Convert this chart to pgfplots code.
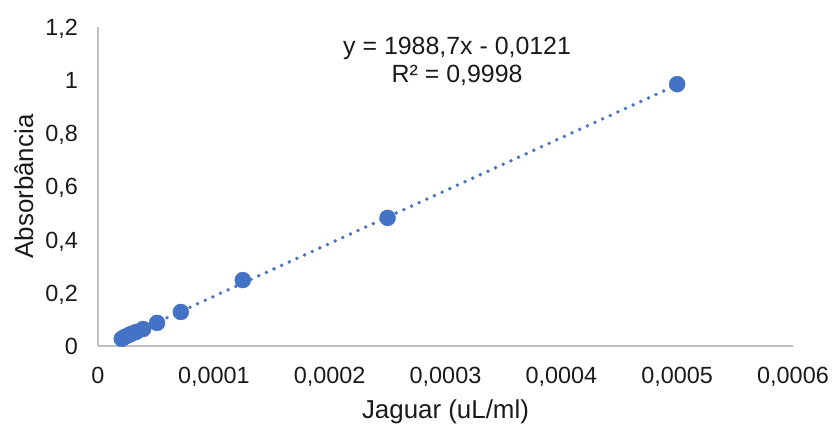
\documentclass[border=0pt]{standalone}
\usepackage{pgfplots}
\pgfplotsset{compat=1.18}
\usepackage{fontspec}
\setmainfont{Liberation Sans}
\definecolor{pts}{HTML}{4472C4}
\definecolor{axgray}{HTML}{BFBFBF}
\definecolor{txt}{HTML}{1A1A1A}
\begin{document}
\begin{tikzpicture}
\begin{axis}[name=ax, scale only axis, width=695bp, height=319bp,
  xmin=0, xmax=0.0006, ymin=0, ymax=1.2,
  axis lines*=left,
  axis line style={axgray, line width=1.3bp},
  xtick={0,0.0001,0.0002,0.0003,0.0004,0.0005,0.0006},
  xticklabels={0,{0,0001},{0,0002},{0,0003},{0,0004},{0,0005},{0,0006}},
  ytick={0,0.2,0.4,0.6,0.8,1,1.2},
  yticklabels={0,{0,2},{0,4},{0,6},{0,8},1,{1,2}},
  major tick length=0pt, tick style={draw=none},
  ticklabel style={font=\fontsize{23.5}{28}\selectfont, text=txt, inner sep=0pt},
  xticklabel style={anchor=base, yshift=-37bp},
  yticklabel style={anchor=base east, xshift=-20bp, yshift=-8.4bp},
  xlabel={Jaguar (uL/ml)}, ylabel={Absorbância},
  label style={font=\fontsize{26}{31}\selectfont, text=txt, inner sep=0pt},
  xlabel style={at={(axis description cs:0.5,-0.2288)}, anchor=base},
  ylabel style={at={(axis description cs:-0.0935,0.5)}, anchor=base},
  clip=false,
]
\addplot[pts, line width=3.8bp, line cap=round, dash pattern=on 0bp off 8.4bp]
  coordinates {(0.00002,0.0277) (0.0005,0.9823)};
\addplot[only marks, mark=*, mark size=8bp, color=pts, mark options={draw=pts, fill=pts}]
  coordinates {
  (0.0005,0.985)
  (0.00025,0.482)
  (0.000125,0.248)
  (0.0000715,0.128)
  (0.0000510,0.087)
  (0.0000390,0.064)
  (0.0000330,0.053)
  (0.0000290,0.046)
  (0.0000260,0.040)
  (0.0000230,0.034)
  (0.0000205,0.027)
  };
\node[align=center, font=\fontsize{25}{28.4}\selectfont, text=txt] at (axis cs:0.000310,1.07)
  {y = 1988,7x - 0,0121\\R² = 0,9998};
\end{axis}
\pgfresetboundingbox
\path ([xshift=-98bp,yshift=-80bp]ax.south west) rectangle ++(832bp,426bp);
\end{tikzpicture}
\end{document}
